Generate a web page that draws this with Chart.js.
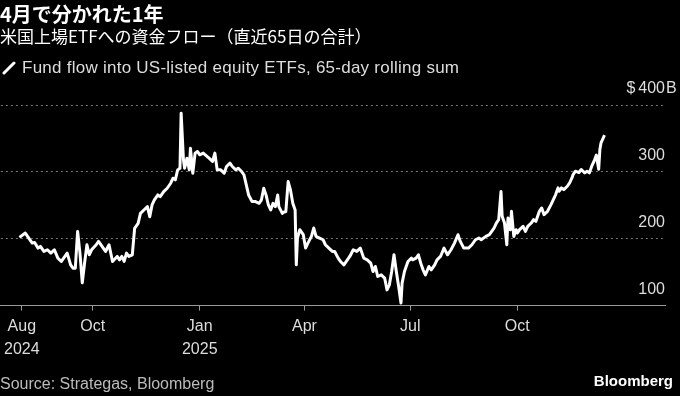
<!DOCTYPE html>
<html>
<head>
<meta charset="utf-8">
<script src="https://cdn.jsdelivr.net/npm/chart.js@4"></script>
<style>
    html, body { margin: 0; padding: 0; background: #000; }
    body { width: 680px; height: 396px; position: relative; overflow: hidden; font-family: "Liberation Sans", Arial, sans-serif; }
    #chart { position: absolute; left: 0; top: 0; }
    .txt { position: absolute; left: 0; white-space: nowrap; }
    #title { top: 0; font: bold 20px/28px "Noto Sans CJK JP", sans-serif; color: #fff; }
    #subtitle { top: 25px; font: 17px/22px "Noto Sans CJK JP", sans-serif; color: #fff; }
    #legend { top: 58px; font-size: 17px; line-height: 20px; letter-spacing: 0.25px; color: #ddd; }
    #legend svg { vertical-align: -2px; margin-right: 6px; }
    #source { top: 374px; font-size: 16px; line-height: 20px; color: #bbb; }
    #logo { top: 371px; left: auto; right: 7px; font-weight: bold; font-size: 15px; line-height: 20px; color: #fff; }
</style>
</head>
<body>
<canvas id="chart" width="680" height="396"></canvas>
<div class="txt" id="title">4月で分かれた1年</div>
<div class="txt" id="subtitle">米国上場ETFへの資金フロー（直近65日の合計）</div>
<div class="txt" id="legend"><svg width="16" height="14"><line x1="4" y1="12" x2="14" y2="2" stroke="#fff" stroke-width="3" stroke-linecap="round"/></svg>Fund flow into US-listed equity ETFs, 65-day rolling sum</div>
<div class="txt" id="source">Source: Strategas, Bloomberg</div>
<div class="txt" id="logo">Bloomberg</div>
<script>
// 65日累計の資金フロー（十億ドル）、チャートから読み取り
const dates = [
    '2024-07-30', '2024-08-04', '2024-08-07', '2024-08-10', '2024-08-12', '2024-08-15', '2024-08-17', '2024-08-20',
    '2024-08-23', '2024-08-26', '2024-08-29', '2024-09-01', '2024-09-04', '2024-09-06', '2024-09-09', '2024-09-12',
    '2024-09-14', '2024-09-16', '2024-09-18', '2024-09-20', '2024-09-22', '2024-09-24', '2024-09-26', '2024-09-28',
    '2024-09-30', '2024-10-04', '2024-10-06', '2024-10-09', '2024-10-12', '2024-10-15', '2024-10-18', '2024-10-22',
    '2024-10-24', '2024-10-26', '2024-10-28', '2024-10-30', '2024-11-01', '2024-11-04', '2024-11-06', '2024-11-09',
    '2024-11-11', '2024-11-14', '2024-11-17', '2024-11-19', '2024-11-21', '2024-11-23', '2024-11-26', '2024-11-28',
    '2024-12-01', '2024-12-04', '2024-12-07', '2024-12-09', '2024-12-11', '2024-12-13', '2024-12-15', '2024-12-16',
    '2024-12-18', '2024-12-19', '2024-12-21', '2024-12-23', '2024-12-24', '2024-12-26', '2024-12-28', '2024-12-30',
    '2025-01-01', '2025-01-04', '2025-01-06', '2025-01-09', '2025-01-12', '2025-01-14', '2025-01-16', '2025-01-19',
    '2025-01-22', '2025-01-24', '2025-01-27', '2025-01-29', '2025-02-01', '2025-02-03', '2025-02-06', '2025-02-08',
    '2025-02-10', '2025-02-12', '2025-02-15', '2025-02-18', '2025-02-21', '2025-02-23', '2025-02-25', '2025-02-27',
    '2025-03-01', '2025-03-03', '2025-03-05', '2025-03-07', '2025-03-09', '2025-03-10', '2025-03-13', '2025-03-15',
    '2025-03-16', '2025-03-18', '2025-03-20', '2025-03-22', '2025-03-24', '2025-03-25', '2025-03-26', '2025-03-28',
    '2025-03-31', '2025-04-02', '2025-04-04', '2025-04-07', '2025-04-09', '2025-04-11', '2025-04-14', '2025-04-17',
    '2025-04-19', '2025-04-22', '2025-04-25', '2025-04-27', '2025-04-30', '2025-05-02', '2025-05-05', '2025-05-07',
    '2025-05-10', '2025-05-13', '2025-05-16', '2025-05-19', '2025-05-22', '2025-05-25', '2025-05-28', '2025-05-30',
    '2025-06-01', '2025-06-03', '2025-06-06', '2025-06-09', '2025-06-11', '2025-06-13', '2025-06-15', '2025-06-17',
    '2025-06-19', '2025-06-21', '2025-06-23', '2025-06-24', '2025-06-26', '2025-06-29', '2025-07-02', '2025-07-03',
    '2025-07-06', '2025-07-08', '2025-07-10', '2025-07-12', '2025-07-14', '2025-07-17', '2025-07-19', '2025-07-22',
    '2025-07-24', '2025-07-27', '2025-07-30', '2025-08-02', '2025-08-05', '2025-08-08', '2025-08-11', '2025-08-13',
    '2025-08-16', '2025-08-20', '2025-08-23', '2025-08-26', '2025-08-29', '2025-08-31', '2025-09-04', '2025-09-07',
    '2025-09-09', '2025-09-11', '2025-09-13', '2025-09-15', '2025-09-17', '2025-09-18', '2025-09-20', '2025-09-22',
    '2025-09-23', '2025-09-25', '2025-09-26', '2025-09-28', '2025-09-30', '2025-10-01', '2025-10-03', '2025-10-06',
    '2025-10-08', '2025-10-10', '2025-10-13', '2025-10-15', '2025-10-17', '2025-10-20', '2025-10-22', '2025-10-24',
    '2025-10-27', '2025-10-30', '2025-11-01', '2025-11-03', '2025-11-05', '2025-11-06', '2025-11-08', '2025-11-10',
    '2025-11-13', '2025-11-15', '2025-11-17', '2025-11-18', '2025-11-20', '2025-11-23', '2025-11-25', '2025-11-28',
    '2025-11-30', '2025-12-02', '2025-12-04', '2025-12-06', '2025-12-08', '2025-12-10', '2025-12-11', '2025-12-12',
    '2025-12-15'
];
const flows = [
    202, 208.5, 201, 193.5, 194.5, 186, 188.5, 181,
    183.5, 178.5, 183.5, 171, 166, 171, 178.5, 161,
    156, 156, 211, 178.5, 134, 164, 191, 176,
    183.5, 191, 196, 188.5, 181, 191, 166, 173.5,
    168.5, 173.5, 166, 178.5, 173.5, 176, 215.5, 223,
    238, 243, 248, 233, 250.5, 258, 265.5, 263,
    270.5, 275.5, 283, 290.5, 288, 303, 305.5, 387.5,
    318, 305.5, 320.5, 303, 335.5, 298, 328, 330.5,
    325.5, 328, 325, 320.5, 315.5, 328, 303, 303,
    298, 308, 313, 308, 303, 305.5, 300.5, 295.5,
    280.5, 265.5, 255.5, 255.5, 253, 258, 275.5, 265.5,
    250.5, 243, 253, 248, 265.5, 248, 238, 240.5,
    240.5, 285.5, 273, 253, 243, 161, 201, 213.5,
    206, 186, 193.5, 203.5, 216, 203.5, 201, 198.5,
    191, 186, 181, 181, 171, 166, 161, 166,
    173.5, 183.5, 181, 186, 171, 168.5, 163.5, 151,
    158.5, 143.5, 146, 141, 123.5, 131, 151, 176,
    151, 128.5, 104, 134, 151, 166, 171, 168.5,
    171, 176, 163.5, 153.5, 146, 158.5, 153.5, 161,
    168.5, 173.5, 186, 176, 183.5, 193.5, 206, 196,
    186, 186, 191, 198.5, 201, 198.5, 203.5, 206,
    211, 216, 223.5, 228.5, 270.5, 233.5, 223.5, 191,
    231, 213.5, 241, 203.5, 213.5, 208.5, 213.5, 218.5,
    211, 218.5, 223.5, 228.5, 226, 241, 246, 236,
    241, 251, 258.5, 266, 276, 271, 276, 273.5,
    278.5, 283.5, 291, 296, 301, 299, 303.5, 298.5,
    301, 298.5, 308.5, 316, 325, 304, 333.5, 343.5,
    355
];

// 横軸の目盛り
const tickDates = ['2024-08-01', '2024-10-01', '2025-01-01', '2025-04-01', '2025-07-01', '2025-10-01'];
const tickLabels = [['Aug', '2024'], 'Oct', ['Jan', '2025'], 'Apr', 'Jul', 'Oct'];
const axisRange = ['2024-07-14', '2026-02-05'];

// 縦軸の目盛り
const yTicks = [100, 200, 300, 400];

function toDay(s) { //日付文字列を日数に変換
    const p = s.split('-');
    return Date.UTC(+p[0], +p[1] - 1, +p[2]) / 86400000;
}

const tickDays = tickDates.map(toDay);
const points = dates.map((d, i) => ({x: toDay(d), y: flows[i]}));

const FONT = '"Liberation Sans", Arial, sans-serif';
Chart.defaults.font.family = FONT;
Chart.defaults.font.size = 16;

// 一番上のラベルに「$」と「B」を付ける
const dollarLabel = {
    id: 'dollarLabel',
    afterDraw(chart) {
        const y = chart.scales.y;
        const ctx = chart.ctx;
        const top = yTicks[yTicks.length - 1];
        const py = y.getPixelForValue(top) - 16;
        ctx.save();
        ctx.font = '16px ' + FONT;
        ctx.fillStyle = '#ddd';
        ctx.textBaseline = 'middle';
        const w = ctx.measureText(String(top)).width;
        ctx.textAlign = 'right';
        ctx.fillText('$', y.left - w - 3, py);
        ctx.textAlign = 'left';
        ctx.fillText('B', y.left + 1, py);
        ctx.restore();
    }
};

new Chart(document.getElementById('chart'), {
    type: 'line',
    data: {
        datasets: [{
            data: points,
            borderColor: '#fff',
            borderWidth: 3,
            borderJoinStyle: 'round',
            pointRadius: 0,
            tension: 0
        }]
    },
    options: {
        responsive: false,
        animation: false,
        layout: {padding: {top: 105, right: 15, left: 0, bottom: 31}},
        plugins: {legend: {display: false}, tooltip: {enabled: false}},
        scales: {
            x: {
                type: 'linear',
                min: toDay(axisRange[0]),
                max: toDay(axisRange[1]),
                afterBuildTicks: scale => {
                    scale.ticks = tickDays.map(v => ({value: v}));
                },
                grid: {drawOnChartArea: false, drawTicks: true, tickLength: 5, color: '#999'},
                border: {display: true, color: '#999', width: 1},
                ticks: {
                    autoSkip: false,
                    maxRotation: 0,
                    padding: 4,
                    color: '#ddd',
                    font: {size: 16, lineHeight: 1.45},
                    callback: value => tickLabels[tickDays.indexOf(value)]
                }
            },
            y: {
                position: 'right',
                min: 100,
                max: 400,
                afterBuildTicks: scale => {
                    scale.ticks = yTicks.map(v => ({value: v}));
                },
                grid: {
                    drawTicks: false,
                    color: ctx => ctx.tick && ctx.tick.value === 100 ? 'rgba(0,0,0,0)' : '#777',
                    lineWidth: 1
                },
                border: {display: false, dash: [2, 3]},
                ticks: {
                    mirror: true,
                    padding: 0,
                    labelOffset: -16,
                    color: '#ddd',
                    font: {size: 16}
                }
            }
        }
    },
    plugins: [dollarLabel]
});
</script>
</body>
</html>
